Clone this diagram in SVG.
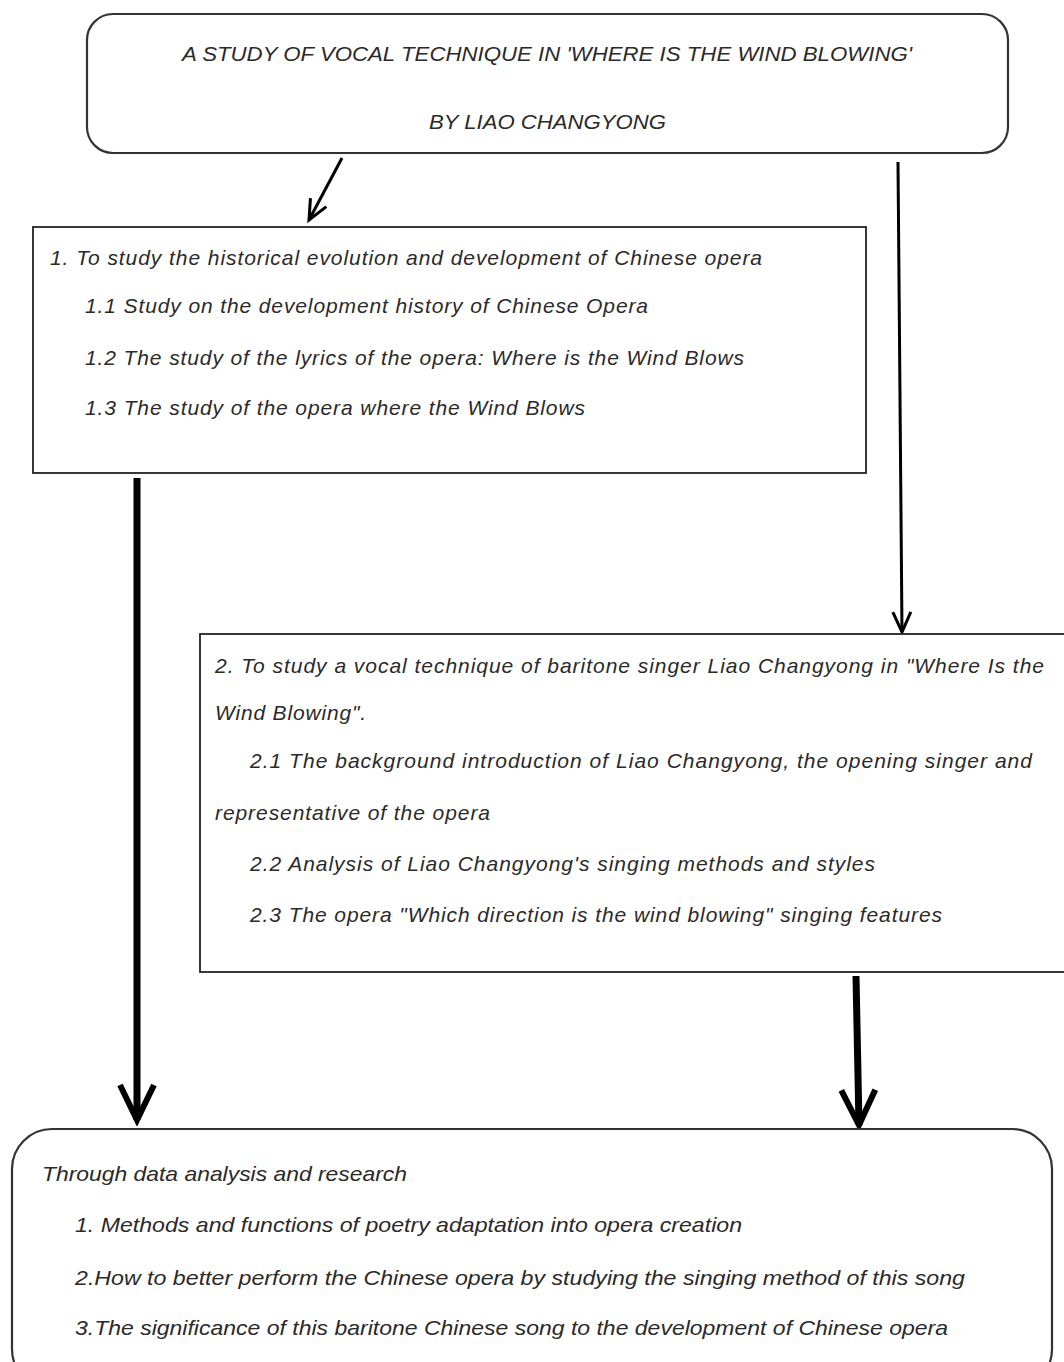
<svg xmlns="http://www.w3.org/2000/svg" width="1064" height="1362" viewBox="0 0 1064 1362">
<style>
text{font-family:"Liberation Sans",Arial,sans-serif;font-style:italic;font-size:21px;fill:#2a2a2a}
.box{fill:#fff;stroke:#222;stroke-width:1.8}
.rbox{fill:#fff;stroke:#333;stroke-width:2.2}
.thin{stroke:#000;stroke-width:3;fill:none}
.thick{stroke:#000;stroke-width:7;fill:none}
</style>
<defs>
<marker id="vthin" markerUnits="userSpaceOnUse" markerWidth="30" markerHeight="30" refX="24" refY="15" orient="auto" viewBox="0 0 30 30">
<path d="M4 6 L24 15 L4 24" fill="none" stroke="#000" stroke-width="3"/>
</marker>
<marker id="vthick" markerUnits="userSpaceOnUse" markerWidth="44" markerHeight="44" refX="38" refY="22" orient="auto" viewBox="0 0 44 44">
<path d="M3 5 L38 22 L3 39" fill="none" stroke="#000" stroke-width="6"/>
</marker>
</defs>
<rect width="1064" height="1362" fill="#fff"/>

<g id="connectors">
<line class="thin" x1="342" y1="158" x2="309" y2="220" marker-end="url(#vthin)"/>
<line class="thin" x1="898" y1="162" x2="902" y2="632" marker-end="url(#vthin)"/>
<line class="thick" x1="137" y1="478" x2="137" y2="1120" marker-end="url(#vthick)"/>
<line class="thick" x1="856" y1="976" x2="859" y2="1125" marker-end="url(#vthick)"/>
</g>

<g id="title">
<rect class="rbox" x="87" y="14" width="921" height="139" rx="26" ry="26"/>
<text x="182" y="61" textLength="730" lengthAdjust="spacingAndGlyphs">A STUDY OF VOCAL TECHNIQUE IN 'WHERE IS THE WIND BLOWING'</text>
<text x="429" y="129" textLength="237" lengthAdjust="spacingAndGlyphs">BY LIAO CHANGYONG</text>
</g>

<g id="objective1">
<rect class="box" x="33" y="227" width="833" height="246"/>
<text x="50" y="265" textLength="712" lengthAdjust="spacing">1. To study the historical evolution and development of Chinese opera</text>
<text x="85" y="313" textLength="563" lengthAdjust="spacing">1.1 Study on the development history of Chinese Opera</text>
<text x="85" y="365" textLength="659" lengthAdjust="spacing">1.2 The study of the lyrics of the opera: Where is the Wind Blows</text>
<text x="85" y="415" textLength="500" lengthAdjust="spacing">1.3 The study of the opera where the Wind Blows</text>
</g>

<g id="objective2">
<rect class="box" x="200" y="634" width="880" height="338"/>
<text x="215" y="673" textLength="829" lengthAdjust="spacing">2. To study a vocal technique of baritone singer Liao Changyong in "Where Is the</text>
<text x="215" y="720" textLength="151" lengthAdjust="spacing">Wind Blowing".</text>
<text x="250" y="768" textLength="782" lengthAdjust="spacing">2.1 The background introduction of Liao Changyong, the opening singer and</text>
<text x="215" y="820" textLength="275" lengthAdjust="spacing">representative of the opera</text>
<text x="250" y="871" textLength="625" lengthAdjust="spacing">2.2 Analysis of Liao Changyong's singing methods and styles</text>
<text x="250" y="922" textLength="692" lengthAdjust="spacing">2.3 The opera "Which direction is the wind blowing" singing features</text>
</g>

<g id="conclusion">
<rect class="rbox" x="12" y="1129" width="1040" height="260" rx="40" ry="40"/>
<text x="42" y="1181" textLength="365" lengthAdjust="spacingAndGlyphs">Through data analysis and research</text>
<text x="75" y="1232" textLength="667" lengthAdjust="spacingAndGlyphs">1. Methods and functions of poetry adaptation into opera creation</text>
<text x="75" y="1285" textLength="890" lengthAdjust="spacingAndGlyphs">2.How to better perform the Chinese opera by studying the singing method of this song</text>
<text x="75" y="1335" textLength="873" lengthAdjust="spacingAndGlyphs">3.The significance of this baritone Chinese song to the development of Chinese opera</text>
</g>
</svg>
